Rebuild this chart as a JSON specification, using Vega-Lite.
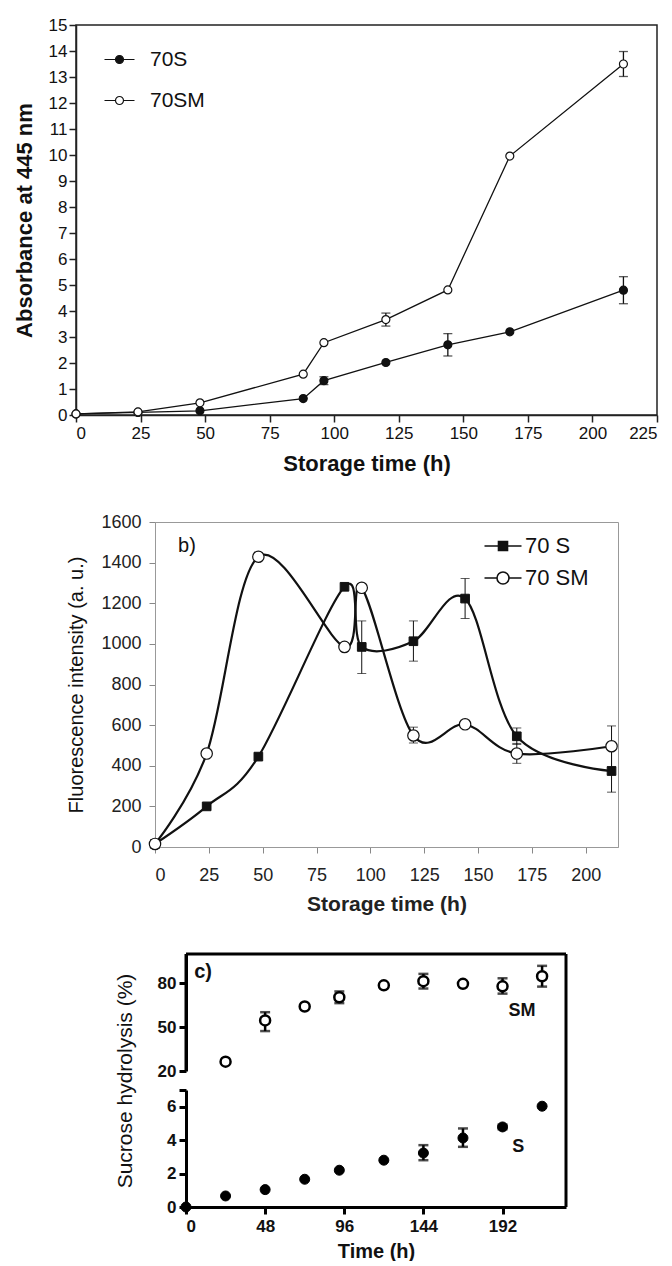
{
  "$schema": "https://vega.github.io/schema/vega-lite/v6.json",
  "background": "white",
  "padding": {"left": 12, "top": 15, "right": 0, "bottom": 0},
  "config": {"font": "Liberation Sans", "view": {"stroke": null}, "axis": {"grid": false}},
  "spacing": 37,
  "align": "none",
  "resolve": {"scale": {"fill": "independent", "shape": "independent", "size": "independent"}},
  "datasets": {
    "a": [
      {"s": "70S", "t": 0, "v": 0.04},
      {"s": "70S", "t": 24, "v": 0.1},
      {"s": "70S", "t": 48, "v": 0.16},
      {"s": "70S", "t": 88, "v": 0.63},
      {"s": "70S", "t": 96, "v": 1.32, "lo": 1.17, "hi": 1.47},
      {"s": "70S", "t": 120, "v": 2.02},
      {"s": "70S", "t": 144, "v": 2.7, "lo": 2.27, "hi": 3.13},
      {"s": "70S", "t": 168, "v": 3.2},
      {"s": "70S", "t": 212, "v": 4.8, "lo": 4.28, "hi": 5.32},
      {"s": "70SM", "t": 0, "v": 0.04},
      {"s": "70SM", "t": 24, "v": 0.12},
      {"s": "70SM", "t": 48, "v": 0.47},
      {"s": "70SM", "t": 88, "v": 1.57},
      {"s": "70SM", "t": 96, "v": 2.78},
      {"s": "70SM", "t": 120, "v": 3.67, "lo": 3.42, "hi": 3.92},
      {"s": "70SM", "t": 144, "v": 4.81},
      {"s": "70SM", "t": 168, "v": 9.96},
      {"s": "70SM", "t": 212, "v": 13.5, "lo": 13.02, "hi": 13.98}
    ],
    "b": [
      {"s": "70 S", "t": 0, "v": 15},
      {"s": "70 S", "t": 24, "v": 200},
      {"s": "70 S", "t": 48, "v": 445},
      {"s": "70 S", "t": 88, "v": 1281},
      {"s": "70 S", "t": 96, "v": 985, "lo": 854, "hi": 1113},
      {"s": "70 S", "t": 120, "v": 1013, "lo": 915, "hi": 1113},
      {"s": "70 S", "t": 144, "v": 1223, "lo": 1125, "hi": 1322},
      {"s": "70 S", "t": 168, "v": 545, "lo": 505, "hi": 586},
      {"s": "70 S", "t": 212, "v": 374, "lo": 270, "hi": 480},
      {"s": "70 SM", "t": 0, "v": 15},
      {"s": "70 SM", "t": 24, "v": 460},
      {"s": "70 SM", "t": 48, "v": 1429},
      {"s": "70 SM", "t": 88, "v": 985},
      {"s": "70 SM", "t": 96, "v": 1276},
      {"s": "70 SM", "t": 120, "v": 549, "lo": 512, "hi": 590},
      {"s": "70 SM", "t": 144, "v": 604},
      {"s": "70 SM", "t": 168, "v": 460, "lo": 412, "hi": 510},
      {"s": "70 SM", "t": 212, "v": 496, "lo": 396, "hi": 596}
    ],
    "c": [
      {"s": "SM", "t": 24, "v": 26.4},
      {"s": "SM", "t": 48, "v": 54.6, "lo": 47.3, "hi": 60.2},
      {"s": "SM", "t": 72, "v": 64.1},
      {"s": "SM", "t": 93, "v": 70.4, "lo": 66.4, "hi": 74.4},
      {"s": "SM", "t": 120, "v": 78.6},
      {"s": "SM", "t": 144, "v": 81.4, "lo": 76.4, "hi": 86.4},
      {"s": "SM", "t": 168, "v": 79.6},
      {"s": "SM", "t": 192, "v": 77.9, "lo": 72.9, "hi": 83.4},
      {"s": "SM", "t": 216, "v": 84.8, "lo": 77.7, "hi": 91.9},
      {"s": "S", "t": 0, "v": 0},
      {"s": "S", "t": 24, "v": 0.66},
      {"s": "S", "t": 48, "v": 1.04},
      {"s": "S", "t": 72, "v": 1.66},
      {"s": "S", "t": 93, "v": 2.2},
      {"s": "S", "t": 120, "v": 2.8},
      {"s": "S", "t": 144, "v": 3.23, "lo": 2.8, "hi": 3.7},
      {"s": "S", "t": 168, "v": 4.13, "lo": 3.6, "hi": 4.7},
      {"s": "S", "t": 192, "v": 4.79, "lo": 4.65, "hi": 4.93},
      {"s": "S", "t": 216, "v": 6.03}
    ]
  },
  "vconcat": [
    {
      "width": 581,
      "height": 390,
      "view": {"stroke": "#222", "strokeWidth": 1.5},
      "data": {"name": "a"},
      "encoding": {
        "x": {
          "field": "t", "type": "quantitative", "title": "Storage time (h)",
          "scale": {"domain": [0, 225], "nice": false},
          "axis": {"values": [0, 25, 50, 75, 100, 125, 150, 175, 200, 225], "domainColor": "#222", "domainWidth": 1.5, "tickColor": "#222", "tickWidth": 1.5, "tickSize": 7, "labelFontSize": 17, "labelColor": "#111", "labelPadding": 3, "titleFontSize": 22, "titleFontWeight": "bold", "titleColor": "#111", "titlePadding": 12}
        },
        "y": {
          "field": "v", "type": "quantitative", "title": "Absorbance at 445 nm",
          "scale": {"domain": [0, 15], "nice": false},
          "axis": {"values": [0, 1, 2, 3, 4, 5, 6, 7, 8, 9, 10, 11, 12, 13, 14, 15], "domainColor": "#222", "domainWidth": 1.5, "tickColor": "#222", "tickWidth": 1.5, "tickSize": 7, "labelFontSize": 17, "labelColor": "#111", "labelPadding": 2, "titleFontSize": 22, "titleFontWeight": "bold", "titleColor": "#111", "titlePadding": 12}
        }
      },
      "layer": [
        {"mark": {"type": "line", "color": "#111", "strokeWidth": 1.3}, "encoding": {"detail": {"field": "s"}}},
        {
          "transform": [{"filter": "isValid(datum.lo)"}],
          "mark": {"type": "errorbar", "ticks": {"size": 9}, "color": "#111", "thickness": 1.3},
          "encoding": {"y": {"field": "lo", "type": "quantitative", "title": "Absorbance at 445 nm"}, "y2": {"field": "hi"}}
        },
        {
          "mark": {"type": "point", "filled": true, "size": 64, "opacity": 1, "stroke": "#111", "strokeWidth": 1.2},
          "encoding": {
            "fill": {
              "field": "s", "type": "nominal",
              "scale": {"domain": ["70S", "70SM"], "range": ["#111", "white"]},
              "legend": {"title": null, "orient": "none", "legendX": 33, "legendY": 24, "padding": 0, "symbolType": "M-3.75,0H-1M1,0H3.75M-1,0A1,1,0,1,1,1,0A1,1,0,1,1,-1,0Z", "symbolSize": 64, "symbolStrokeColor": "#111", "symbolStrokeWidth": 1.2, "symbolOpacity": 1, "labelFontSize": 21, "labelColor": "#111", "labelOffset": 20, "rowPadding": 19}
            }
          }
        },
        {
          "data": {"values": [{}]},
          "mark": {"type": "text", "text": "a)", "fontSize": 23, "align": "center", "baseline": "middle", "color": "#111"},
          "encoding": {"x": {"datum": 174}, "y": {"datum": 14.15}}
        }
      ]
    },
    {
      "spacing": 0,
      "align": "none",
      "bounds": "flush",
      "hconcat": [
        {"width": 79, "height": 10, "data": {"values": []}, "mark": "point"},
        {
          "width": 463,
          "height": 325,
          "view": {"stroke": "#999", "strokeWidth": 1},
          "data": {"name": "b"},
          "encoding": {
            "x": {
              "field": "t", "type": "quantitative", "title": "Storage time (h)",
              "scale": {"domain": [0, 215], "nice": false},
              "axis": {"values": [0, 25, 50, 75, 100, 125, 150, 175, 200], "domainColor": "#999", "tickColor": "#888", "tickSize": 6, "labelFontSize": 18, "labelColor": "#222", "labelPadding": 13, "titleFontSize": 21, "titleFontWeight": "bold", "titleColor": "#222", "titlePadding": 9}
            },
            "y": {
              "field": "v", "type": "quantitative", "title": "Fluorescence intensity (a. u.)",
              "scale": {"domain": [0, 1600], "nice": false},
              "axis": {"values": [0, 200, 400, 600, 800, 1000, 1200, 1400, 1600], "format": "d", "domainColor": "#999", "tickColor": "#888", "tickSize": 6, "labelFontSize": 18, "labelColor": "#222", "labelPadding": 8, "titleFontSize": 20, "titleFontWeight": "normal", "titleColor": "#111", "titlePadding": 14}
            }
          },
          "layer": [
            {"mark": {"type": "line", "color": "#111", "strokeWidth": 2.2, "interpolate": "cardinal"}, "encoding": {"detail": {"field": "s"}}},
            {
              "transform": [{"filter": "isValid(datum.lo)"}],
              "mark": {"type": "errorbar", "ticks": {"size": 9}, "color": "#111", "thickness": 1},
              "encoding": {"y": {"field": "lo", "type": "quantitative", "title": "Fluorescence intensity (a. u.)"}, "y2": {"field": "hi"}}
            },
            {
              "transform": [{"filter": "datum.s === '70 S'"}],
              "mark": {"type": "point", "shape": "square", "filled": true, "fill": "#111", "size": 75, "opacity": 1, "stroke": "#111", "strokeWidth": 1}
            },
            {
              "transform": [{"filter": "datum.s === '70 SM'"}],
              "mark": {"type": "point", "shape": "circle", "filled": true, "fill": "white", "size": 130, "opacity": 1, "stroke": "#111", "strokeWidth": 1.2}
            },
            {
              "transform": [{"filter": "datum.t > 1000"}],
              "mark": {"type": "point", "filled": true, "size": 100, "opacity": 1, "stroke": "#111", "strokeWidth": 1.6},
              "encoding": {
                "fill": {
                  "field": "s", "type": "nominal",
                  "scale": {"domain": ["70 S", "70 SM"], "range": ["#111", "white"]},
                  "legend": {
                    "title": null, "orient": "none", "legendX": 416, "legendY": 13, "padding": 0,
                    "symbolType": "M-3.7,0H-1.2M1.2,0H3.7M-1.2,0A1.2,1.2,0,1,1,1.2,0A1.2,1.2,0,1,1,-1.2,0Z",
                    "symbolSize": 100, "symbolOpacity": 1, "symbolStrokeColor": "#111", "symbolStrokeWidth": 1.6,
                    "labelFontSize": 22, "labelColor": "#111", "labelOffset": 11, "rowPadding": 10,
                    "encode": {"symbols": {"update": {"shape": {"signal": "datum.value === '70 S' ? 'M-3.7,0H-0.9M0.9,0H3.7M-0.9,-0.9H0.9V0.9H-0.9Z' : 'M-3.7,0H-1.2M1.2,0H3.7M-1.2,0A1.2,1.2,0,1,1,1.2,0A1.2,1.2,0,1,1,-1.2,0Z'"}}}}
                  }
                }
              }
            },
            {
              "transform": [{"filter": "datum.t === 0 && datum.s === '70 S'"}],
              "mark": {"type": "text", "text": "b)", "fontSize": 20, "align": "left", "baseline": "middle", "color": "#111"},
              "encoding": {"x": {"datum": 10.7}, "y": {"datum": 1481}}
            }
          ]
        }
      ]
    },
    {
      "spacing": 0,
      "align": "none",
      "bounds": "flush",
      "hconcat": [
        {"width": 110, "height": 10, "data": {"values": []}, "mark": "point"},
        {
          "width": 380,
          "height": 253,
          "data": {"name": "c"},
          "layer": [
            {
              "transform": [{"filter": "datum.s === 'SM'"}],
              "layer": [
                {
                  "data": {"values": [{}]},
                  "mark": {"type": "rule", "color": "black", "strokeWidth": 3},
                  "encoding": {"y": {"datum": 100, "type": "quantitative", "scale": {"domain": [20, 100], "nice": false, "range": [117, 0]}}}
                },
                {
                  "data": {"values": [{}]},
                  "mark": {"type": "rule", "color": "black", "strokeWidth": 3},
                  "encoding": {"x": {"datum": 230.5, "type": "quantitative"}}
                },
                {
                  "data": {"values": [{}]},
                  "mark": {"type": "rule", "color": "black", "strokeWidth": 3},
                  "encoding": {"x": {"datum": 0, "type": "quantitative"}, "y": {"datum": 20, "type": "quantitative"}, "y2": {"datum": 100}}
                },
                {
                  "transform": [{"filter": "isValid(datum.lo)"}],
                  "mark": {"type": "errorbar", "ticks": {"size": 10}, "color": "black", "thickness": 2.5},
                  "encoding": {
                    "x": {"field": "t", "type": "quantitative", "title": "Time (h)"},
                    "y": {"field": "lo", "type": "quantitative", "title": null},
                    "y2": {"field": "hi"}
                  }
                },
                {
                  "mark": {"type": "point", "shape": "circle", "filled": true, "fill": "white", "size": 100, "opacity": 1, "stroke": "black", "strokeWidth": 2.5},
                  "encoding": {
                    "x": {
                      "field": "t", "type": "quantitative", "title": "Time (h)",
                      "scale": {"domain": [0, 230.5], "nice": false},
                      "axis": {"values": [0, 48, 96, 144, 192], "domainColor": "black", "domainWidth": 3, "tickColor": "black", "tickWidth": 3, "tickSize": 7, "labelFontSize": 17, "labelFontWeight": "bold", "labelColor": "#111", "labelPadding": 4, "titleFontSize": 20, "titleFontWeight": "bold", "titleColor": "#111", "titlePadding": 7}
                    },
                    "y": {
                      "field": "v", "type": "quantitative", "title": null,
                      "scale": {"domain": [20, 100], "nice": false, "range": [117, 0]},
                      "axis": {"orient": "left", "values": [20, 50, 80], "domain": true, "domainColor": "black", "domainWidth": 3, "tickColor": "black", "tickWidth": 3, "tickSize": 7, "labelFontSize": 17, "labelFontWeight": "bold", "labelColor": "#111", "labelPadding": 3}
                    }
                  }
                },
                {
                  "data": {"values": [{}]},
                  "mark": {"type": "text", "text": "SM", "fontSize": 18, "fontWeight": "bold", "align": "center", "baseline": "middle", "color": "#111"},
                  "encoding": {"x": {"datum": 203.8}, "y": {"datum": 60.9}}
                },
                {
                  "data": {"values": [{}]},
                  "mark": {"type": "text", "text": "c)", "fontSize": 20, "fontWeight": "bold", "align": "left", "baseline": "middle", "color": "#111"},
                  "encoding": {"x": {"datum": 5}, "y": {"datum": 87.5}}
                }
              ]
            },
            {
              "transform": [{"filter": "datum.s === 'S'"}],
              "layer": [
                {
                  "transform": [{"filter": "isValid(datum.lo)"}],
                  "mark": {"type": "errorbar", "ticks": {"size": 10}, "color": "black", "thickness": 2.5},
                  "encoding": {
                    "x": {"field": "t", "type": "quantitative", "title": "Time (h)"},
                    "y": {"field": "lo", "type": "quantitative", "title": "Sucrose hydrolysis (%)"},
                    "y2": {"field": "hi"}
                  }
                },
                {
                  "mark": {"type": "point", "shape": "circle", "filled": true, "fill": "black", "size": 100, "opacity": 1, "stroke": "black", "strokeWidth": 1},
                  "encoding": {
                    "x": {"field": "t", "type": "quantitative", "title": "Time (h)"},
                    "y": {
                      "field": "v", "type": "quantitative", "title": "Sucrose hydrolysis (%)",
                      "scale": {"domain": [0, 7], "nice": false, "range": [253, 136]},
                      "axis": {"orient": "left", "values": [0, 2, 4, 6, 7], "labelExpr": "datum.value == 7 ? '' : datum.label", "domainColor": "black", "domainWidth": 3, "tickColor": "black", "tickWidth": 3, "tickSize": 7, "labelFontSize": 17, "labelFontWeight": "bold", "labelColor": "#111", "labelPadding": 3, "titleFontSize": 21, "titleFontWeight": "normal", "titleColor": "#111", "titlePadding": 31, "titleY": 126.5}
                    }
                  }
                },
                {
                  "data": {"values": [{}]},
                  "mark": {"type": "text", "text": "S", "fontSize": 18, "fontWeight": "bold", "align": "center", "baseline": "middle", "color": "#111"},
                  "encoding": {"x": {"datum": 201.6}, "y": {"datum": 3.59}}
                }
              ]
            }
          ],
          "resolve": {"scale": {"y": "independent"}, "axis": {"y": "independent"}}
        }
      ]
    }
  ]
}
